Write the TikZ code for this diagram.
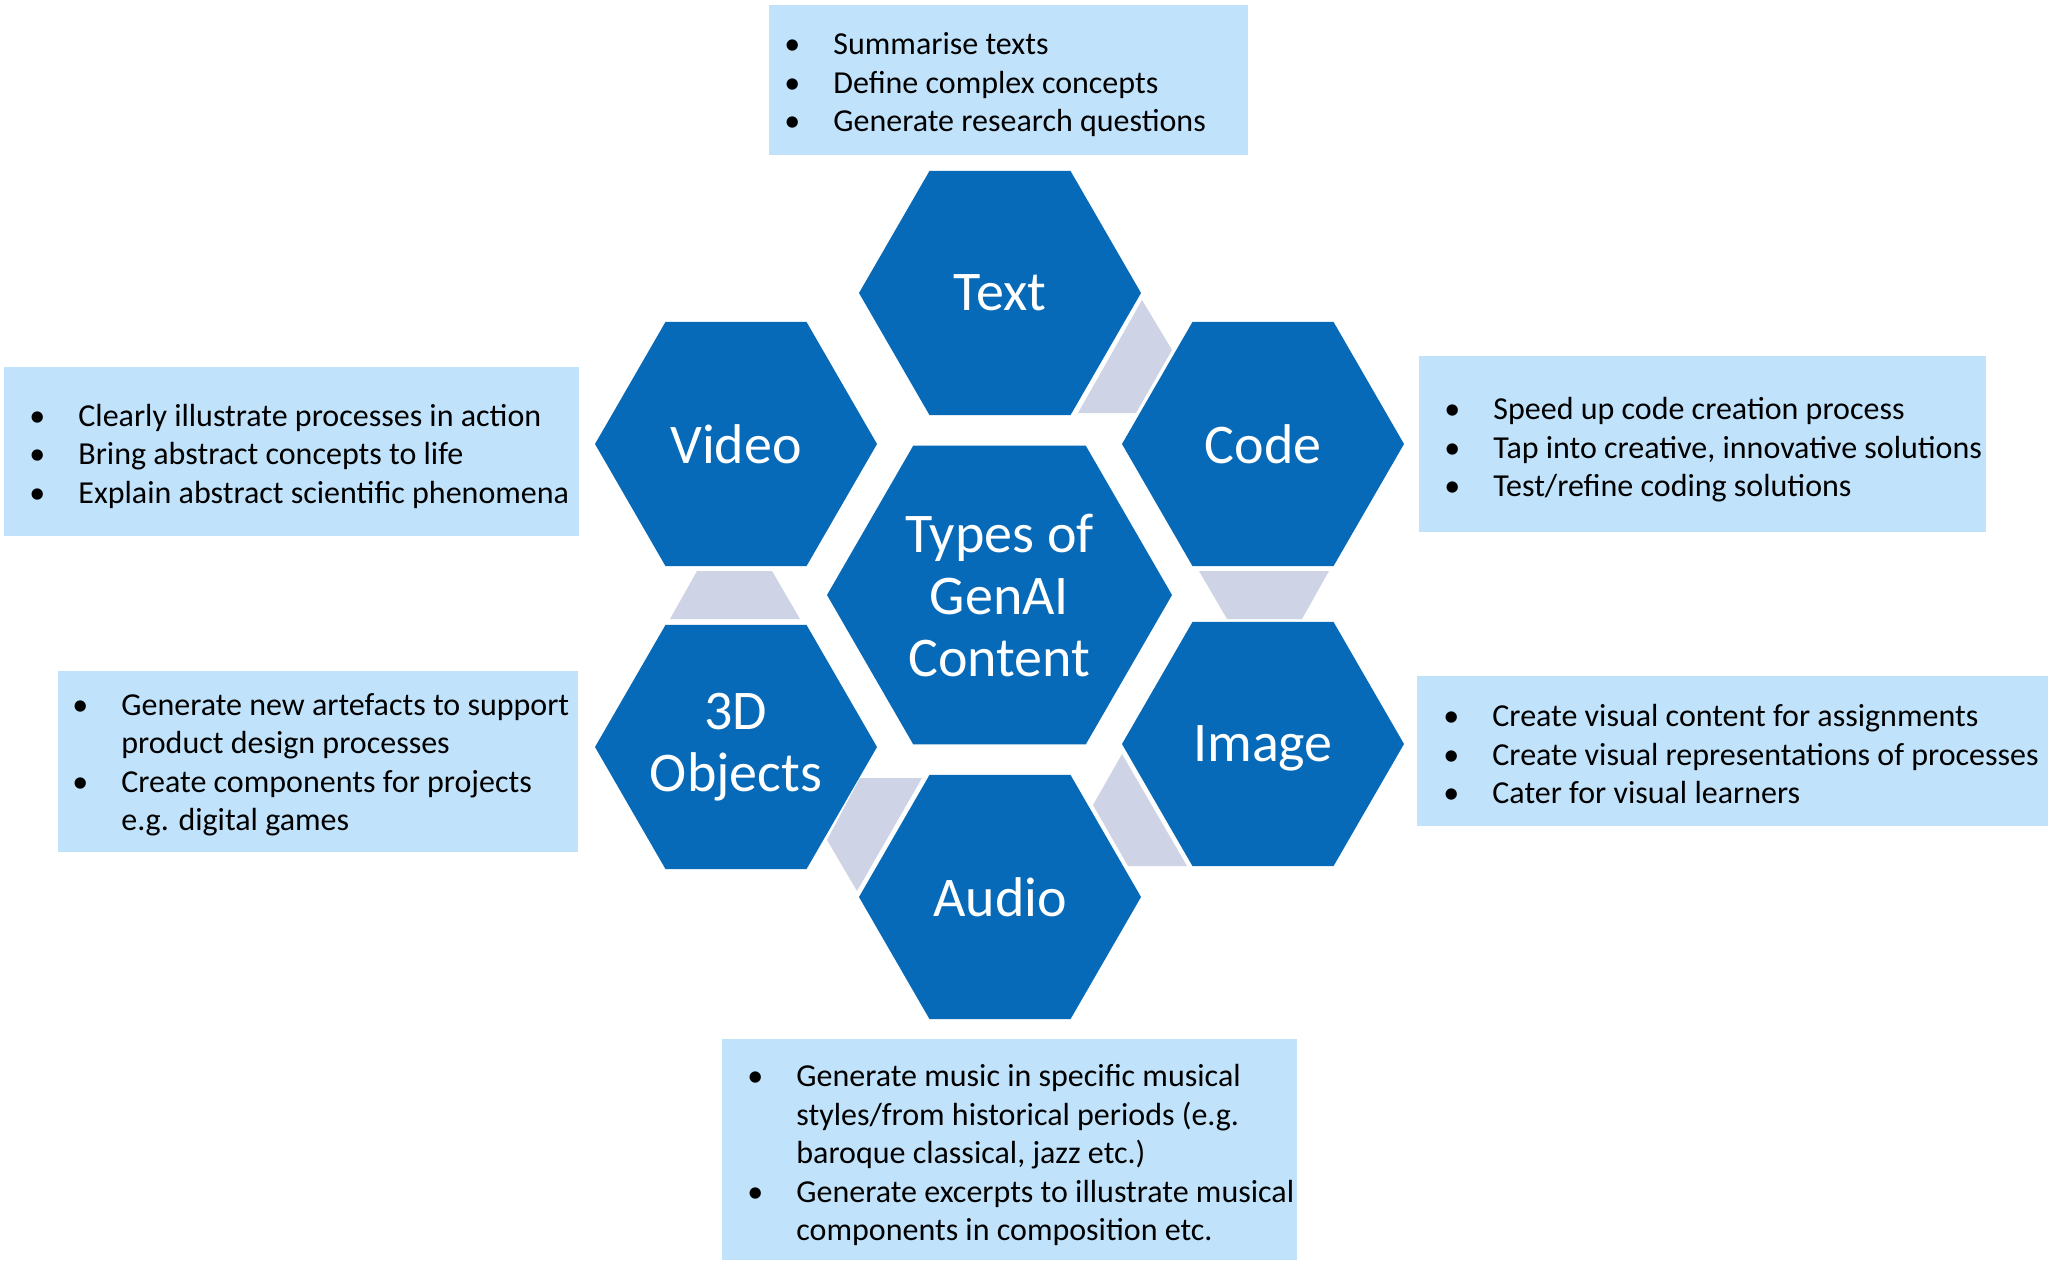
\documentclass[tikz,border=0pt]{standalone}
\usepackage{fontspec}
\setmainfont{Carlito}
\usetikzlibrary{shapes.geometric}
\definecolor{hexblue}{RGB}{6,106,185}
\definecolor{linkgrey}{RGB}{206,212,230}
\definecolor{boxblue}{RGB}{192,226,250}
\newcommand\bul{\makebox[0pt][c]{\textbullet}\hspace{20.5pt}}
\newcommand\ind{\hspace*{20.5pt}}
\begin{document}
\begin{tikzpicture}[x=0.5pt,y=-0.5pt,
  hexbox/.style={regular polygon, regular polygon sides=6, fill=hexblue, draw=none,
    inner sep=0pt, outer sep=0pt, minimum size=141pt, text=white, align=center,
    font=\fontsize{28pt}{31pt}\selectfont},
  bighex/.style={hexbox, minimum size=172.5pt},
  infobox/.style={fill=boxblue, draw=none, inner sep=0pt, outer sep=0pt, anchor=north west},
  listtext/.style={anchor=west, align=left, inner sep=0pt, text=black,
    font=\fontsize{16pt}{19.25pt}\selectfont},
  link/.style={fill=linkgrey, draw=none}
]
\useasboundingbox (0,0) rectangle (2055,1265);
\fill[white] (0,0) rectangle (2055,1265);

% grey links
\fill[link] (1142,300) -- (1172,350) -- (1136,413) -- (1078,413) -- cycle;
\fill[link] (1199,571) -- (1329,571) -- (1302,619) -- (1227,619) -- cycle;
\fill[link] (1122,754) -- (1093,805) -- (1128,866) -- (1187,866) -- cycle;
\fill[link] (860,778) -- (922,778) -- (857,891) -- (827,840) -- cycle;
\fill[link] (697,571) -- (772,571) -- (800,619) -- (670,619) -- cycle;

% hexagons
\node[bighex] (core) at (999.5,595) {Types of\\GenAI\\Content};
\node[hexbox] (text) at (1000,293) {Text};
\node[hexbox] (code) at (1263,444) {Code};
\node[hexbox, text depth=0pt] (image) at (1263,744) {Image};
\node[hexbox] (audio) at (1000,897) {Audio};
\node[hexbox] (objects) at (736,747) {3D\\Objects};
\node[hexbox] (video) at (736,444) {Video};

% info boxes
\node[infobox, minimum width=239.5pt, minimum height=75pt] (textbox) at (769,5) {};
\node[listtext] (textlist) at (792,85) {\bul Summarise texts\\\bul Define complex concepts\\\bul Generate research questions};

\node[infobox, minimum width=287.5pt, minimum height=84.5pt] (videobox) at (4,367) {};
\node[listtext] (videolist) at (37,456) {\bul Clearly illustrate processes in action\\\bul Bring abstract concepts to life\\\bul Explain abstract scientific phenomena};

\node[infobox, minimum width=283.5pt, minimum height=88pt] (codebox) at (1419,356) {};
\node[listtext] (codelist) at (1452,450) {\bul Speed up code creation process\\\bul Tap into creative, innovative solutions\\\bul Test/refine coding solutions};

\node[infobox, minimum width=315.5pt, minimum height=75pt] (imagebox) at (1417,676) {};
\node[listtext] (imagelist) at (1451,754) {\bul Create visual content for assignments\\\bul Create visual representations of processes\\\bul Cater for visual learners};

\node[infobox, minimum width=260pt, minimum height=90.5pt] (objectsbox) at (58,671) {};
\node[listtext] (objectslist) at (80,765) {\bul Generate new artefacts to support\\\ind product design processes\\\bul Create components for projects\\\ind e.g. digital games};

\node[infobox, minimum width=287.5pt, minimum height=110.5pt] (audiobox) at (722,1039) {};
\node[listtext] (audiolist) at (755,1155) {\bul Generate music in specific musical\\\ind styles/from historical periods (e.g.\\\ind baroque classical, jazz etc.)\\\bul Generate excerpts to illustrate musical\\\ind components in composition etc.};
\end{tikzpicture}
\end{document}
